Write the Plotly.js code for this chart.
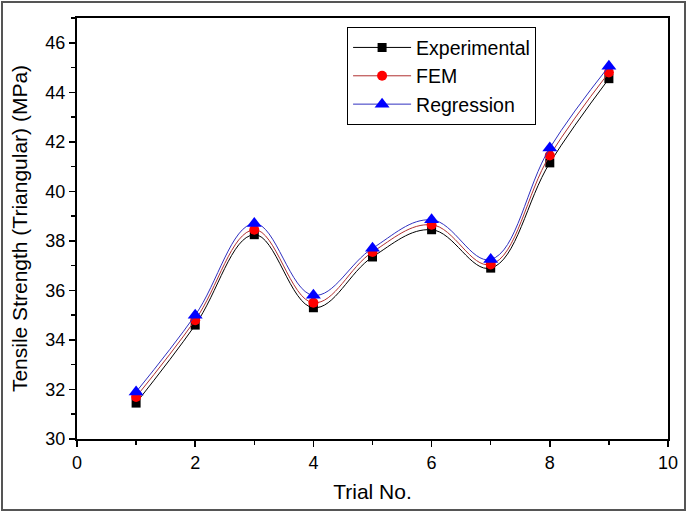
<!DOCTYPE html>
<html>
<head>
<meta charset="utf-8">
<script src="https://cdn.plot.ly/plotly-3.0.1.min.js"></script>
<style>
html,body{margin:0;padding:0;background:#fff;}
#wrap{position:relative;width:687px;height:512px;}
#chart{position:absolute;left:0;top:0;width:687px;height:512px;}
#frame{position:absolute;left:1px;top:1px;width:681px;height:506px;border:2px solid #555;z-index:10;pointer-events:none;}
</style>
</head>
<body>
<div id="wrap"><div id="chart"></div><div id="frame"></div></div>
<script>
const trials = [1, 2, 3, 4, 5, 6, 7, 8, 9];
const experimental = [31.45, 34.6, 38.25, 35.3, 37.35, 38.45, 36.9, 41.15, 44.55];
const fem = [31.7, 34.8, 38.45, 35.5, 37.55, 38.65, 37.05, 41.45, 44.8];
const regression = [31.9, 35.0, 38.7, 35.8, 37.7, 38.85, 37.25, 41.75, 45.05];
const xTicks = [0, 2, 4, 6, 8, 10];
const yTicks = [30, 32, 34, 36, 38, 40, 42, 44, 46];

const font = 'Liberation Sans, Arial, sans-serif';

function series(name, y, color, lineColor, symbol, size) {
  return {
    x: trials, y: y, name: name, type: 'scatter', mode: 'lines+markers',
    line: {color: lineColor, width: 1, shape: 'spline', smoothing: 1.1},
    marker: {color: color, symbol: symbol, size: size}
  };
}

const data = [
  series('Experimental', experimental, '#000000', '#000000', 'square', 9),
  series('FEM', fem, '#ff0000', '#b03030', 'circle', 10),
  series('Regression', regression, '#0000ff', '#3030c0', 'triangle-up', 13)
];

const layout = {
  width: 687, height: 512,
  margin: {l: 77, r: 19, t: 18, b: 73},
  paper_bgcolor: '#fff', plot_bgcolor: '#fff',
  font: {family: font, color: '#000', size: 18},
  showlegend: true,
  legend: {
    x: 0.457, y: 0.978, xanchor: 'left', yanchor: 'top',
    bgcolor: '#fff', bordercolor: '#000', borderwidth: 1,
    font: {family: font, size: 19.5, color: '#000'},
    tracegroupgap: 0, itemwidth: 58
  },
  xaxis: {
    range: [0, 10], tickvals: xTicks, ticktext: xTicks.map(String),
    showgrid: false, zeroline: false,
    showline: true, linecolor: '#000', linewidth: 2, mirror: true,
    ticks: 'outside', ticklen: 6, tickwidth: 1.5, tickcolor: '#000',
    minor: {dtick: 1, tick0: 0, ticks: 'outside', ticklen: 4, tickwidth: 1.5, tickcolor: '#000', showgrid: false},
    tickfont: {family: font, size: 18},
    title: {text: 'Trial No.', font: {family: font, size: 21}, standoff: 13}
  },
  yaxis: {
    range: [30, 47], tickvals: yTicks, ticktext: yTicks.map(String),
    showgrid: false, zeroline: false,
    showline: true, linecolor: '#000', linewidth: 2, mirror: true,
    ticks: 'outside', ticklen: 6, tickwidth: 1.5, tickcolor: '#000',
    minor: {dtick: 1, tick0: 30, ticks: 'outside', ticklen: 4, tickwidth: 1.5, tickcolor: '#000', showgrid: false},
    tickfont: {family: font, size: 18},
    title: {text: 'Tensile Strength (Triangular) (MPa)', font: {family: font, size: 21}, standoff: 12}
  },
  xaxis2: {
    overlaying: 'x', side: 'top', range: [0, 10], tickvals: xTicks,
    showticklabels: false, showgrid: false, zeroline: false, showline: false,
    ticks: 'inside', ticklen: 6, tickwidth: 1.5, tickcolor: '#000',
    minor: {dtick: 1, tick0: 0, ticks: 'inside', ticklen: 4, tickwidth: 1.5, tickcolor: '#000'}
  },
  yaxis2: {
    overlaying: 'y', side: 'right', range: [30, 47], tickvals: yTicks,
    showticklabels: false, showgrid: false, zeroline: false, showline: false,
    ticks: 'inside', ticklen: 6, tickwidth: 1.5, tickcolor: '#000',
    minor: {dtick: 1, tick0: 30, ticks: 'inside', ticklen: 4, tickwidth: 1.5, tickcolor: '#000'}
  }
};

Plotly.newPlot('chart', data, layout, {displayModeBar: false, staticPlot: true});
</script>
</body>
</html>
